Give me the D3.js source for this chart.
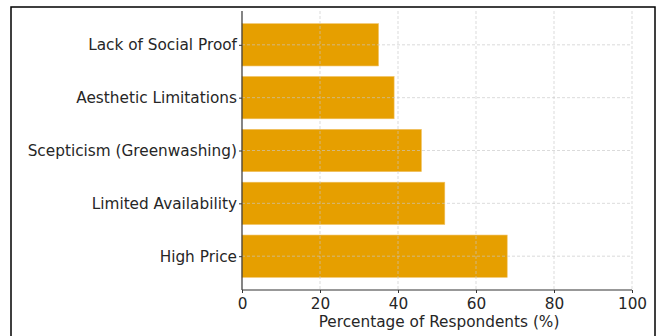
<!DOCTYPE html>
<html lang="en">
<head>
<meta charset="utf-8">
<title>Barriers chart</title>
<script src="https://cdn.jsdelivr.net/npm/d3@7"></script>
<style>
  body { margin: 0; background: #fff; }
  svg text { font-family: "DejaVu Sans", sans-serif; fill: #262626; }
  .grid line { stroke: #c8c8c8; stroke-dasharray: 3, 2; stroke-width: 0.8; }
  .axis path, .axis line { stroke: #333; }
</style>
</head>
<body>
<script>
// data, bottom to top as drawn
var barriers = ["High Price", "Limited Availability", "Scepticism (Greenwashing)", "Aesthetic Limitations", "Lack of Social Proof"];
var percents = [68, 52, 46, 39, 35];
var xTicks = [0, 20, 40, 60, 80, 100];
var xTitle = "Percentage of Respondents (%)";

var W = 659, H = 336;
var margin = {top: 11, right: 27, bottom: 46, left: 242};
var w = W - margin.left - margin.right,
    h = H - margin.top - margin.bottom;
var fs = "15.3px";

var svg = d3.select("body").append("svg")
  .attr("width", W)
  .attr("height", H);

// outer frame
svg.append("rect")
  .attr("x", 11).attr("y", 7)
  .attr("width", 644).attr("height", 340)
  .attr("fill", "none")
  .attr("stroke", "#000")
  .attr("stroke-width", 1.5);

var g = svg.append("g").attr("transform", "translate(" + margin.left + "," + margin.top + ")");

var x = d3.scaleLinear().domain([0, 100]).range([0, w]);
var y = d3.scaleLinear().domain([-0.64, barriers.length - 1 + 0.64]).range([h, 0]);
var barH = y(0) - y(0.8);

g.selectAll("rect.bar")
  .data(percents)
  .enter().append("rect")
  .attr("class", "bar")
  .attr("x", x(0))
  .attr("y", function(d, i) { return y(i + 0.4); })
  .attr("width", function(d) { return x(d) - x(0); })
  .attr("height", barH)
  .attr("fill", "#E69F00")
  .attr("stroke", "#f0c060")
  .attr("stroke-width", 0.6);

// grid on top of bars, like the original
var grid = g.append("g").attr("class", "grid");
grid.selectAll("line.v")
  .data(xTicks.slice(1))
  .enter().append("line")
  .attr("x1", function(d) { return x(d); })
  .attr("x2", function(d) { return x(d); })
  .attr("y1", 0).attr("y2", h)
  .attr("opacity", 0.8);
grid.selectAll("line.h")
  .data(barriers)
  .enter().append("line")
  .attr("x1", 0).attr("x2", w)
  .attr("y1", function(d, i) { return y(i); })
  .attr("y2", function(d, i) { return y(i); })
  .attr("opacity", 0.8);

// axes
var xAxis = d3.axisBottom(x).tickValues(xTicks).tickSize(3).tickPadding(5);
var gx = g.append("g")
  .attr("class", "axis")
  .attr("transform", "translate(0," + h + ")")
  .call(xAxis);
gx.select(".domain").attr("d", "M0,0H" + w);
gx.selectAll("text").style("font-size", fs);

var yAxis = d3.axisLeft(y).tickValues(d3.range(barriers.length))
  .tickFormat(function(i) { return barriers[i]; })
  .tickSize(3).tickPadding(2);
var gy = g.append("g").attr("class", "axis").call(yAxis);
gy.select(".domain").attr("d", "M0," + h + "V0");
gy.selectAll("text").style("font-size", fs);

g.selectAll(".axis .domain").attr("stroke-width", 1.2);

g.append("text")
  .attr("x", w / 2 + 2)
  .attr("y", h + 37)
  .attr("text-anchor", "middle")
  .style("font-size", fs)
  .text(xTitle);
</script>
</body>
</html>
